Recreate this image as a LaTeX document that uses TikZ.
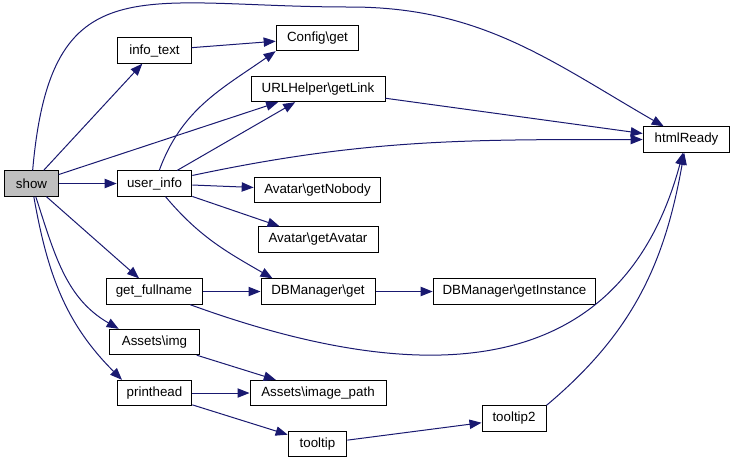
\documentclass[tikz,border=0pt]{standalone}
\usepackage{fontspec}
\setmainfont{Liberation Sans}
\usetikzlibrary{arrows.meta}
\definecolor{edgeblue}{HTML}{191970}
\definecolor{showgrey}{gray}{0.75}

\begin{document}
\begin{tikzpicture}[x=0.75pt,y=0.75pt,>={Triangle[length=9pt,width=7pt]},
		fn/.style={draw=black,line width=0.75pt,minimum height=19pt,inner sep=0pt,
			font=\fontsize{10}{12}\selectfont},
		callarrow/.style={color=edgeblue,line width=0.75pt}]
		\useasboundingbox (0,0) rectangle (735,-462);
		\node[fn,fill=showgrey,minimum width=40pt] (show) at (31.5,-183.5) {show};
		\node[fn,minimum width=55pt] (infotext) at (154.5,-50.5) {info\_text};
		\node[fn,minimum width=62pt] (cfgget) at (317.5,-38) {Config\textbackslash get};
		\node[fn,minimum width=100.5pt] (urllink) at (318,-89) {URLHelper\textbackslash getLink};
		\node[fn,minimum width=65pt] (html) at (686.5,-139.5) {htmlReady};
		\node[fn,minimum width=56pt] (userinfo) at (154.5,-183.5) {user\_info};
		\node[fn,minimum width=95pt] (nobody) at (317.5,-190) {Avatar\textbackslash getNobody};
		\node[fn,minimum width=90pt] (avatar) at (318,-239.5) {Avatar\textbackslash getAvatar};
		\node[fn,minimum width=72pt] (fullname) at (154,-291.5) {get\_fullname};
		\node[fn,minimum width=85.5pt] (dbget) at (318,-291.5) {DBManager\textbackslash get};
		\node[fn,minimum width=122pt] (getinstance) at (514.5,-291.5) {DBManager\textbackslash getInstance};
		\node[fn,minimum width=67pt] (img) at (154.5,-342) {Assets\textbackslash img};
		\node[fn,minimum width=102pt] (imagepath) at (318,-393) {Assets\textbackslash image\_path};
		\node[fn,minimum width=56pt] (printhead) at (154.5,-393) {printhead};
		\node[fn,minimum width=44pt] (tooltip) at (317.5,-444) {tooltip};
		\node[fn,minimum width=48pt] (tooltip2) at (514,-418.5) {tooltip2};
		\coordinate (topbend) at (350,-7);

		\path[->,callarrow] (show) edge (infotext)
				  (show) edge (urllink)
				  (show) edge (userinfo)
				  (show) edge (fullname)
				  (show) edge [out=-72,in=150] ([xshift=7]img.north west)
				  (show) edge [out=-80,in=135] ([xshift=4]printhead.north west)
				  (infotext) edge (cfgget)
				  (userinfo) edge [out=70,in=215] (cfgget.south west)
				  (userinfo) edge (urllink)
				  (userinfo) edge [out=12,in=180] (html)
				  (userinfo) edge (nobody)
				  (userinfo) edge (avatar)
				  (userinfo) edge [out=-50,in=150] ([xshift=9]dbget.north west)
				  (urllink) edge (html)
				  (fullname) edge (dbget)
				  (fullname) edge [out=-20,in=-105,looseness=1.2] (html)
				  (dbget) edge (getinstance)
				  (img) edge (imagepath)
				  (printhead) edge (imagepath)
				  (printhead) edge (tooltip)
				  (tooltip) edge (tooltip2)
				  (tooltip2.north east) edge [out=40,in=-100] (html);
		\draw[->,callarrow] (show) to[out=85,in=180,looseness=1.5] (topbend)
			to[out=0,in=150] (html);
	\end{tikzpicture}
\end{document}
